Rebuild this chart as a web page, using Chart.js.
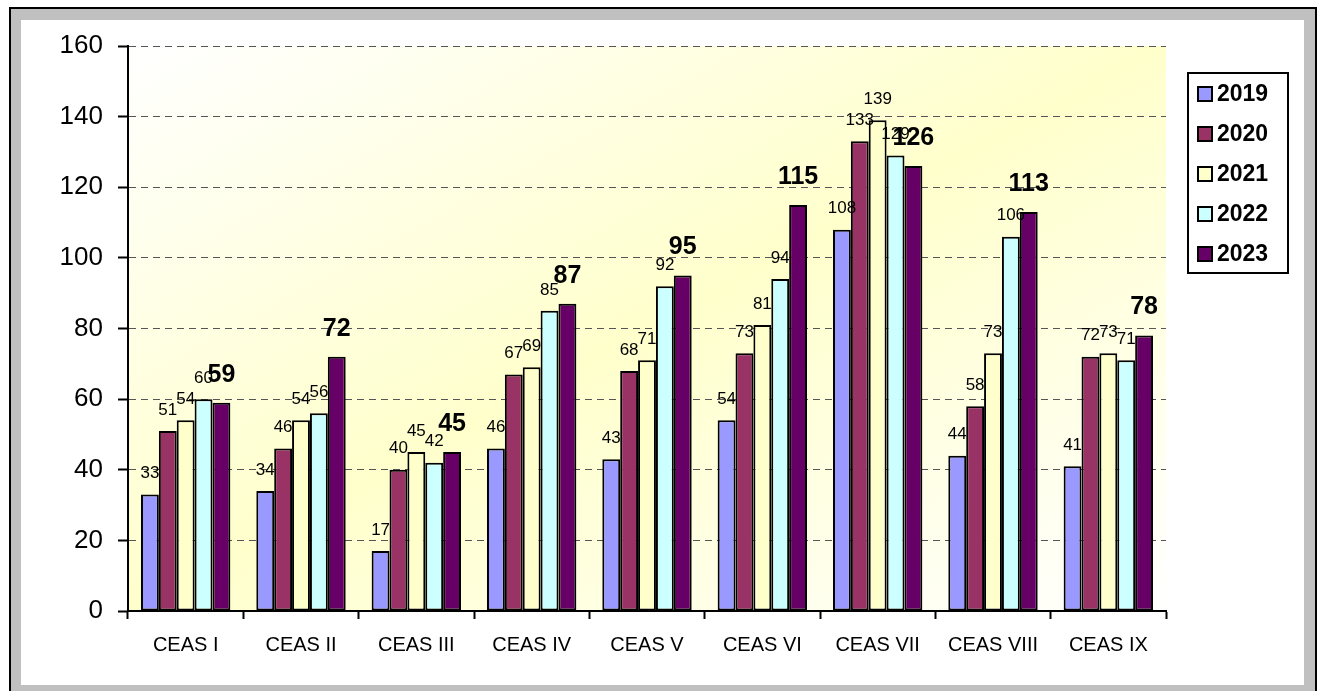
<!DOCTYPE html>
<html>
<head>
<meta charset="utf-8">
<script src="https://cdn.jsdelivr.net/npm/chart.js@4.4.1/dist/chart.umd.min.js"></script>
<style>
  body { margin: 0; background: #ffffff; }
  #c { display: block; }
</style>
</head>
<body>
<canvas id="c" width="1319" height="691"></canvas>
<script>
const categories = ["CEAS I", "CEAS II", "CEAS III", "CEAS IV", "CEAS V", "CEAS VI", "CEAS VII", "CEAS VIII", "CEAS IX"];
const years = ["2019", "2020", "2021", "2022", "2023"];
const values2019 = [33, 34, 17, 46, 43, 54, 108, 44, 41];
const values2020 = [51, 46, 40, 67, 68, 73, 133, 58, 72];
const values2021 = [54, 54, 45, 69, 71, 81, 139, 73, 73];
const values2022 = [60, 56, 42, 85, 92, 94, 129, 106, 71];
const values2023 = [59, 72, 45, 87, 95, 115, 126, 113, 78];
const yTicks = [0, 20, 40, 60, 80, 100, 120, 140, 160];

const seriesValues = [values2019, values2020, values2021, values2022, values2023];
const seriesColors = ["#9999FF", "#993366", "#FFFFCC", "#CCFFFF", "#660066"];
const FONT = "'Liberation Sans', Arial, sans-serif";

// frame, gradient plot background
const backgroundPlugin = {
  id: "background",
  beforeDraw(chart) {
    const ctx = chart.ctx;
    const a = chart.chartArea;
    ctx.save();
    ctx.fillStyle = "#ffffff";
    ctx.fillRect(0, 0, chart.width, chart.height);
    // gray border band
    ctx.fillStyle = "#C0C0C0";
    ctx.fillRect(10, 8, 1305, 700);
    ctx.fillStyle = "#ffffff";
    ctx.fillRect(21, 20, 1283, 665);
    ctx.strokeStyle = "#000000";
    ctx.lineWidth = 2;
    ctx.strokeRect(10, 8, 1306, 700);

    // diagonal gradient, yellow along the anti-diagonal
    const cx = (a.left + a.right) / 2;
    const cy = (a.top + a.bottom) / 2;
    const w = a.right - a.left;
    const h = a.bottom - a.top;
    const len = Math.hypot(w, h);
    const ux = h / len, uy = w / len;
    const d = (w * h) / len;
    const g = ctx.createLinearGradient(cx - ux * d, cy - uy * d, cx + ux * d, cy + uy * d);
    g.addColorStop(0, "#FFFFFF");
    g.addColorStop(0.5, "#FFFFCC");
    g.addColorStop(1, "#FFFFFF");
    ctx.fillStyle = g;
    ctx.fillRect(a.left, a.top, w, h);
    ctx.restore();
  }
};

// value labels above bars
const labelsPlugin = {
  id: "valueLabels",
  afterDatasetsDraw(chart) {
    const ctx = chart.ctx;
    ctx.save();
    ctx.fillStyle = "#000000";
    ctx.textAlign = "center";
    ctx.textBaseline = "middle";
    chart.data.datasets.forEach((ds, i) => {
      const meta = chart.getDatasetMeta(i);
      const last = i === chart.data.datasets.length - 1;
      ctx.font = last ? "bold 25px " + FONT : "17px " + FONT;
      meta.data.forEach((bar, j) => {
        const off = last ? 28 : 21;
        ctx.fillText(String(ds.data[j]), bar.x, bar.y - off);
      });
    });
    ctx.restore();
  }
};

// boxed legend on the right
const legendPlugin = {
  id: "boxLegend",
  afterDraw(chart) {
    const ctx = chart.ctx;
    const left = 1188, top = 73, bw = 100, bh = 200;
    ctx.save();
    ctx.fillStyle = "#ffffff";
    ctx.fillRect(left, top, bw, bh);
    ctx.strokeStyle = "#000000";
    ctx.lineWidth = 2;
    ctx.strokeRect(left, top, bw, bh);
    ctx.font = "bold 23px " + FONT;
    ctx.textAlign = "left";
    ctx.textBaseline = "middle";
    chart.data.datasets.forEach((ds, i) => {
      const y = top + 21 + i * 40;
      ctx.fillStyle = ds.backgroundColor;
      ctx.fillRect(left + 10, y - 7, 14, 14);
      ctx.strokeRect(left + 10, y - 7, 14, 14);
      ctx.fillStyle = "#000000";
      ctx.fillText(ds.label, left + 29, y + 1);
    });
    ctx.restore();
  }
};

new Chart(document.getElementById("c"), {
  type: "bar",
  data: {
    labels: categories,
    datasets: years.map((y, i) => ({
      label: y,
      data: seriesValues[i],
      backgroundColor: seriesColors[i],
      borderColor: "#000000",
      borderWidth: 2,
      borderSkipped: false,
      barPercentage: 1,
      categoryPercentage: 0.775,
    })),
  },
  options: {
    responsive: false,
    devicePixelRatio: 1,
    animation: false,
    layout: { padding: { left: 0, right: 153, top: 46, bottom: 0 } },
    plugins: {
      legend: { display: false },
      tooltip: { enabled: false },
    },
    scales: {
      x: {
        afterFit: (s) => { s.height = 80; },
        grid: {
          offset: true,
          drawOnChartArea: false,
          drawTicks: true,
          tickLength: 8,
          tickColor: "#000000",
          tickWidth: 2,
        },
        border: { display: true, color: "#000000", width: 2 },
        ticks: {
          color: "#000000",
          padding: 14,
          font: { family: FONT, size: 20 },
          maxRotation: 0,
          autoSkip: false,
        },
      },
      y: {
        min: 0,
        max: 160,
        afterFit: (s) => { s.width = 128; },
        afterBuildTicks: (s) => { s.ticks = yTicks.map((v) => ({ value: v })); },
        grid: {
          color: "#555555",
          lineWidth: 1,
          drawTicks: true,
          tickLength: 10,
          tickColor: "#000000",
          tickWidth: 2,
          tickBorderDash: [],
        },
        border: { display: true, color: "#000000", width: 2, dash: [7, 5] },
        ticks: {
          color: "#000000",
          padding: 15,
          font: { family: FONT, size: 26 },
        },
      },
    },
  },
  plugins: [backgroundPlugin, labelsPlugin, legendPlugin],
});
</script>
</body>
</html>
